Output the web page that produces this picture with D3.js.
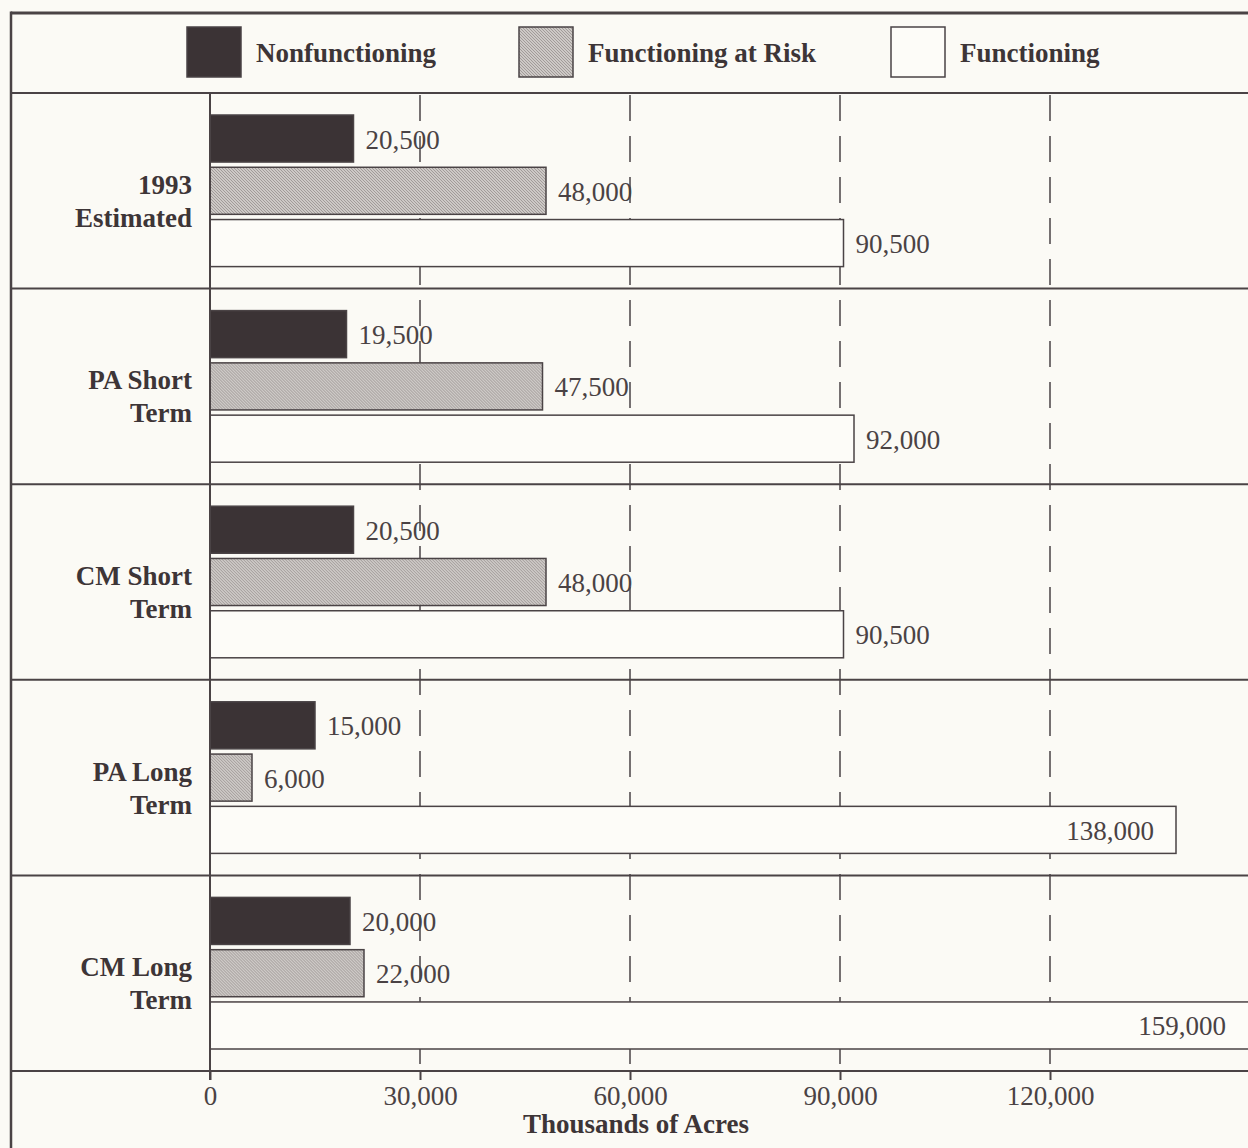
<!DOCTYPE html>
<html>
<head>
<meta charset="utf-8">
<script src="https://cdn.jsdelivr.net/npm/d3@7"></script>
<style>
  html, body { margin: 0; padding: 0; background: #fbfaf5; }
  svg { display: block; }
</style>
</head>
<body>
<svg id="chart" width="1248" height="1148"></svg>
<script>
// Land condition by scenario, thousands of acres
const categories = [
  ["1993", "Estimated"],
  ["PA Short", "Term"],
  ["CM Short", "Term"],
  ["PA Long", "Term"],
  ["CM Long", "Term"]
];
const seriesNames = ["Nonfunctioning", "Functioning at Risk", "Functioning"];
const nonfunctioning    = [20500, 19500, 20500, 15000, 20000];
const functioningAtRisk = [48000, 47500, 48000, 6000, 22000];
const functioning       = [90500, 92000, 90500, 138000, 159000];
const tickValues = [0, 30000, 60000, 90000, 120000];
const axisTitle = "Thousands of Acres";

const seriesValues = [nonfunctioning, functioningAtRisk, functioning];

const W = 1248, H = 1148;
const ink = "#3d3537", inkSoft = "#4a4244", lineCol = "#4a4345";
const serif = "'Liberation Serif', 'Times New Roman', serif";
const fs = 27;

const svg = d3.select("#chart");

// fine diagonal hatch for the at-risk bars
const defs = svg.append("defs");
const hatch = defs.append("pattern")
  .attr("id", "hatch").attr("patternUnits", "userSpaceOnUse")
  .attr("width", 3).attr("height", 3);
hatch.append("rect").attr("width", 3).attr("height", 3).attr("fill", "#cdc9c6");
hatch.append("path").attr("d", "M0,0 L3,3 M-1,2 L1,4 M2,-1 L4,1")
  .attr("stroke", "#a19b99").attr("stroke-width", 1);

const fills = ["#3b3335", "url(#hatch)", "#fdfcf8"];

const frameLeft = 11, frameTop = 13, legendBottom = 93, plotBottom = 1071;
const x0 = 210;

const x = d3.scaleLinear().domain([0, 120000]).range([x0, 1050]);
const yGroup = d3.scaleBand().domain(d3.range(categories.length))
  .range([legendBottom, plotBottom]).padding(0);
const ySeries = d3.scaleBand().domain(d3.range(seriesNames.length))
  .range([22, yGroup.bandwidth() - 22]).paddingInner(0.1).paddingOuter(0);

// frame
svg.append("line").attr("x1", frameLeft).attr("x2", W).attr("y1", frameTop).attr("y2", frameTop)
  .attr("stroke", lineCol).attr("stroke-width", 3);
svg.append("line").attr("x1", frameLeft).attr("x2", frameLeft).attr("y1", frameTop - 1.5).attr("y2", H)
  .attr("stroke", lineCol).attr("stroke-width", 2.5);

// group separators
svg.append("g").selectAll("line")
  .data(d3.range(categories.length + 1))
  .join("line")
  .attr("x1", frameLeft).attr("x2", W)
  .attr("y1", i => i < categories.length ? yGroup(i) : plotBottom)
  .attr("y2", i => i < categories.length ? yGroup(i) : plotBottom)
  .attr("stroke", lineCol).attr("stroke-width", 2);

// dashed gridlines
svg.append("g").selectAll("line")
  .data(tickValues.filter(v => v > 0))
  .join("line")
  .attr("x1", d => x(d)).attr("x2", d => x(d))
  .attr("y1", legendBottom + 2).attr("y2", plotBottom)
  .attr("stroke", lineCol).attr("stroke-width", 1.5)
  .attr("stroke-dasharray", "26,15");

// legend
const legendX = [187, 519, 891];
const legend = svg.append("g");
seriesNames.forEach((name, i) => {
  legend.append("rect")
    .attr("x", legendX[i]).attr("y", 27).attr("width", 54).attr("height", 50)
    .attr("fill", fills[i]).attr("stroke", lineCol).attr("stroke-width", 1.5);
  legend.append("text")
    .attr("x", legendX[i] + 69).attr("y", 62)
    .attr("font-family", serif).attr("font-weight", "bold").attr("font-size", fs)
    .attr("fill", ink).text(name);
});

// bars and value labels
const fmt = d3.format(",");
const labelLimit = W - 12;
const groups = svg.append("g").selectAll("g")
  .data(categories.map((c, gi) => ({ c, gi })))
  .join("g")
  .attr("transform", d => `translate(0,${yGroup(d.gi)})`);

groups.each(function(d) {
  const g = d3.select(this);
  seriesValues.forEach((vals, si) => {
    const v = vals[d.gi];
    const yb = ySeries(si), bh = ySeries.bandwidth();
    const end = x(v);
    g.append("rect")
      .attr("x", x(0)).attr("y", yb)
      .attr("width", end - x(0)).attr("height", bh)
      .attr("fill", fills[si]).attr("stroke", lineCol).attr("stroke-width", 1.5);
    const label = g.append("text")
      .attr("y", yb + bh / 2 + 10)
      .attr("font-family", serif).attr("font-size", fs)
      .attr("fill", inkSoft).text(fmt(v));
    const lw = label.node().getComputedTextLength();
    if (end + 12 + lw > labelLimit) {
      label.attr("x", Math.min(end, W) - 22).attr("text-anchor", "end");
    } else {
      label.attr("x", end + 12);
    }
  });
  // category label
  const cy = yGroup.bandwidth() / 2 + 3;
  g.append("text")
    .attr("text-anchor", "end")
    .attr("font-family", serif).attr("font-weight", "bold").attr("font-size", fs)
    .attr("fill", ink)
    .selectAll("tspan").data(d.c).join("tspan")
    .attr("x", 192).attr("y", (t, i) => cy + i * 33)
    .text(t => t);
});

// vertical axis line
svg.append("line").attr("x1", x0).attr("x2", x0).attr("y1", legendBottom).attr("y2", plotBottom + 9)
  .attr("stroke", lineCol).attr("stroke-width", 2);

// x axis
const axis = svg.append("g")
  .attr("transform", `translate(0,${plotBottom})`)
  .call(d3.axisBottom(x).tickValues(tickValues).tickFormat(fmt).tickSize(9).tickPadding(6));
axis.select(".domain").remove();
axis.selectAll(".tick line").attr("stroke", lineCol).attr("stroke-width", 2);
axis.selectAll(".tick text")
  .attr("font-family", serif).attr("font-size", fs).attr("fill", inkSoft);

svg.append("text")
  .attr("x", 636).attr("y", 1133).attr("text-anchor", "middle")
  .attr("font-family", serif).attr("font-weight", "bold").attr("font-size", fs)
  .attr("fill", ink).text(axisTitle);
</script>
</body>
</html>
